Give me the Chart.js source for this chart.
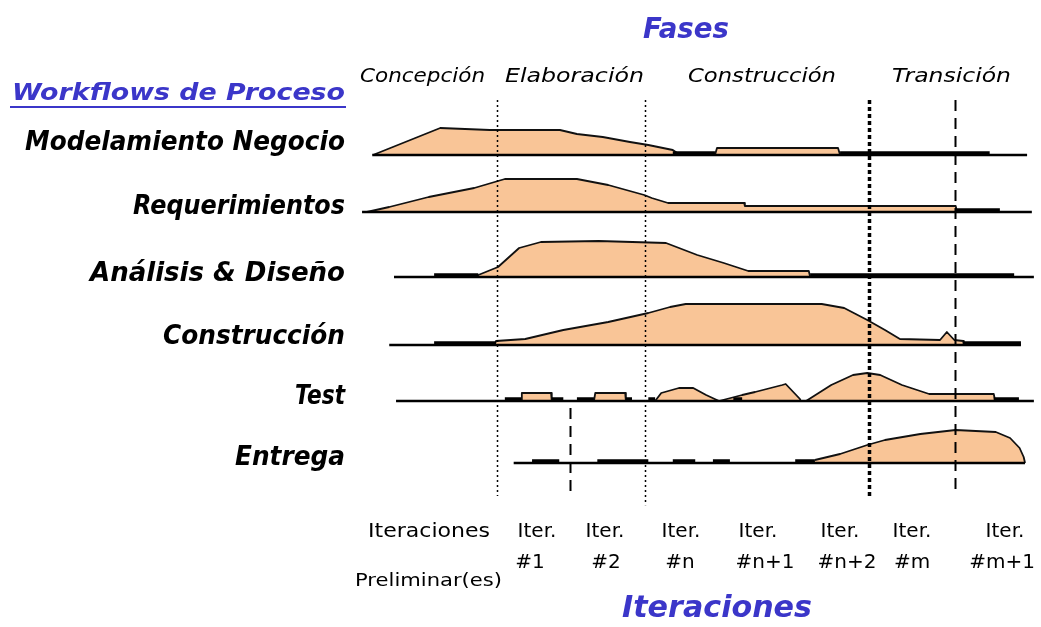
<!DOCTYPE html>
<html><head><meta charset="utf-8">
<script src="https://cdn.jsdelivr.net/npm/chart.js@4/dist/chart.umd.min.js"></script>
<style>html,body{margin:0;padding:0;background:#fff}#wrap{width:1041px;height:627px}canvas{display:block}</style>
</head><body><div id="wrap"><canvas id="c" width="1041" height="627"></canvas></div>
<script>
// ---------- DATA ----------
const title = "Fases";
const axisTitle = "Iteraciones";
const rowHeader = "Workflows de Proceso";
const workflows = ["Modelamiento Negocio","Requerimientos","Análisis & Diseño","Construcción","Test","Entrega"];
const phases = ["Concepción","Elaboración","Construcción","Transición"];
const iterTop = ["Iter.","Iter.","Iter.","Iter.","Iter.","Iter.","Iter."];
const iterBottom = ["#1","#2","#n","#n+1","#n+2","#m","#m+1"];
const iterFirstA = "Iteraciones";
const iterFirstB = "Preliminar(es)";

// baseline level of each workflow band (effort units)
const rowBase = [88.75, 74.5, 58.25, 41.25, 27.25, 11.75];
// extent of each workflow baseline (time units)
const lineStart = [1.8, 0.3, 5.0, 4.3, 5.3, 22.6];
const lineEnd   = [98.1, 98.8, 99.1, 97.2, 99.1, 97.8];

// effort profile of each workflow: time and effort height
const modX = [1.9, 11.8, 19.1, 29.4, 31.9, 35.7, 39.7, 42.4, 46.0, 47.1, 52.2, 52.5, 70.3, 70.6];
const modH = [0, 6.75, 6.25, 6.25, 5.25, 4.5, 3.25, 2.5, 1.25, 0, 0, 1.75, 1.75, 0];
const reqX = [1.0, 4.3, 10.1, 16.8, 21.3, 31.9, 36.5, 41.8, 42.9, 45.3, 56.5, 56.6, 87.6, 87.8];
const reqH = [0, 1.25, 3.75, 6, 8.25, 8.25, 6.75, 4.25, 3.5, 2.25, 2.25, 1.5, 1.5, 0];
const anaX = [17.2, 17.4, 20.3, 23.4, 26.6, 35.1, 45.0, 49.6, 53.5, 57.1, 66.0, 66.2];
const anaH = [0, 0.5, 2.5, 7.25, 8.75, 9, 8.5, 5.5, 3.5, 1.5, 1.5, 0];
const conX = [19.8, 20.0, 24.3, 29.9, 36.5, 42.4, 45.6, 47.9, 67.9, 71.2, 74.6, 77.2, 79.4, 85.3, 86.3, 87.4, 88.7, 88.8];
const conH = [0, 1, 1.5, 3.75, 5.75, 8, 9.5, 10.25, 10.25, 9.25, 6.25, 3.75, 1.5, 1.25, 3.25, 1.25, 1, 0];
const tesX = [23.7, 23.8, 28.1, 28.2, 34.4, 34.6, 39.0, 39.1, 43.4, 44.3, 46.9, 49.0, 50.9, 52.8, 56.2, 58.1, 62.1, 62.6, 64.7, 64.8, 65.6, 69.3, 72.5, 74.6, 76.5, 79.7, 83.7, 93.2, 93.4];
const tesH = [0, 2, 2, 0, 0, 2, 2, 0, 0, 2, 3.25, 3.25, 1.5, 0, 1.5, 2.25, 4, 4.25, 0.5, 0, 0, 4, 6.5, 7, 6.5, 4, 1.75, 1.75, 0];
const entX = [66.9, 70.6, 74.6, 77.2, 82.4, 87.6, 93.5, 95.6, 97.0, 97.6, 97.8];
const entH = [0.75, 2.25, 4.5, 5.75, 7.25, 8.25, 7.75, 6.25, 3.75, 1.5, 0];

// short bursts of low activity (start, end) per workflow
const modBursts = [[46.0, 52.2], [70.6, 92.6]];
const reqBursts = [[87.6, 94.1]];
const anaBursts = [[10.9, 17.4], [66.2, 96.2]];
const conBursts = [[10.9, 20.0], [88.7, 97.2]];
const tesBursts = [[21.3, 23.7], [28.2, 29.9], [31.9, 34.4], [39.1, 40.0], [42.4, 43.4], [54.9, 56.2], [93.2, 96.9]];
const entBursts = [[25.3, 29.3], [34.9, 42.4], [46.0, 49.3], [51.9, 54.4], [64.0, 66.9]];

// phase / iteration boundaries (time units)
const phaseBounds = [20.1, 41.9, 74.9, 87.5];
const iterBound = [30.9];

// ---------- BUILD ----------
const profX = [modX, reqX, anaX, conX, tesX, entX];
const profH = [modH, reqH, anaH, conH, tesH, entH];
const bursts = [modBursts, reqBursts, anaBursts, conBursts, tesBursts, entBursts];
const PEACH = "#f9c597";
const BLUE = "#3b36c9";

const datasets = [];
workflows.forEach((w, i) => {
  datasets.push({
    label: w + " base", order: 0,
    data: [{x: lineStart[i], y: rowBase[i]}, {x: lineEnd[i], y: rowBase[i]}],
    borderColor: "#000", borderWidth: 2.5, pointRadius: 0, fill: false
  });
  const bd = [];
  bursts[i].forEach(([a, b]) => { bd.push({x: a, y: rowBase[i] + 0.45}, {x: b, y: rowBase[i] + 0.45}, {x: b, y: null}); });
  datasets.push({
    label: w + " bursts", order: 0, data: bd, spanGaps: false,
    borderColor: "#000", borderWidth: 4, pointRadius: 0, fill: false, borderCapStyle: "butt"
  });
  datasets.push({
    label: w, order: 2,
    data: profX[i].map((x, j) => ({x, y: rowBase[i] + profH[i][j]})),
    borderColor: "#111", borderWidth: 1.8, pointRadius: 0, tension: 0,
    backgroundColor: PEACH, fill: {value: rowBase[i]}
  });
});

function fitText(ctx, text, x, y, width, align) {
  const m = ctx.measureText(text).width;
  const s = width / m;
  ctx.save();
  let left = align === "right" ? x - width : (align === "center" ? x - width / 2 : x);
  ctx.translate(left, y);
  ctx.scale(s, 1);
  ctx.textAlign = "left";
  ctx.fillText(text, 0, 0);
  ctx.restore();
}

const decor = {
  id: "decor",
  afterDatasetsDraw(chart) {
    const ctx = chart.ctx, xs = chart.scales.x, ys = chart.scales.y;
    ctx.save();
    ctx.strokeStyle = "#000";
    const styles = [
      {w: 1.5, dash: [2, 3]}, {w: 1.5, dash: [2, 3]}, {w: 3.5, dash: [4, 3]}, {w: 2, dash: [11, 7]}
    ];
    phaseBounds.forEach((v, k) => {
      const px = Math.round(xs.getPixelForValue(v)) + 0.5;
      ctx.lineWidth = styles[k].w; ctx.setLineDash(styles[k].dash);
      ctx.beginPath(); ctx.moveTo(px, ys.getPixelForValue(102.5)); ctx.lineTo(px, ys.getPixelForValue(k === 1 ? 1.2 : 3.5)); ctx.stroke();
    });
    iterBound.forEach(v => {
      const px = Math.round(xs.getPixelForValue(v)) + 0.5;
      ctx.lineWidth = 2; ctx.setLineDash([11, 7]);
      ctx.beginPath(); ctx.moveTo(px, ys.getPixelForValue(25.5)); ctx.lineTo(px, ys.getPixelForValue(3.5)); ctx.stroke();
    });
    ctx.restore();
  },
  afterDraw(chart) {
    const ctx = chart.ctx;
    ctx.save();
    ctx.textBaseline = "alphabetic";
    // titles
    ctx.fillStyle = BLUE;
    ctx.font = 'bold italic 29px "DejaVu Sans", sans-serif';
    fitText(ctx, title, 643, 38, 86, "left");
    ctx.font = 'bold italic 30px "DejaVu Sans", sans-serif';
    fitText(ctx, axisTitle, 622, 617, 190, "left");
    ctx.font = 'bold italic 23px "DejaVu Sans", sans-serif';
    fitText(ctx, rowHeader, 12, 100, 333, "left");
    ctx.fillRect(10, 106, 336, 2);
    // workflow labels
    ctx.fillStyle = "#000";
    ctx.font = 'bold italic 26px "DejaVu Sans", sans-serif';
    const lab = [[25, 150], [133, 214], [90, 281], [163, 344], [295, 404], [235, 465]];
    workflows.forEach((w, i) => fitText(ctx, w, 345, lab[i][1], 345 - lab[i][0], "right"));
    // phase labels
    ctx.font = 'italic 20px "DejaVu Sans", sans-serif';
    const ph = [[360, 485], [505, 644], [688, 836], [892, 1011]];
    phases.forEach((p, i) => fitText(ctx, p, ph[i][0], 82, ph[i][1] - ph[i][0], "left"));
    // iteration labels
    ctx.font = '20px "DejaVu Sans", sans-serif';
    fitText(ctx, iterFirstA, 368, 537, 122, "left");
    ctx.font = '17px "DejaVu Sans", sans-serif';
    fitText(ctx, iterFirstB, 355, 586, 147, "left");
    ctx.font = '20px "DejaVu Sans", sans-serif';
    ctx.textAlign = "center";
    const topC = [537, 605, 681, 758, 840, 912, 1005];
    const botC = [530, 606, 680, 765, 847, 912, 1002];
    iterBottom.forEach((t, i) => {
      ctx.fillText(iterTop[i], topC[i], 537);
      ctx.fillText(t, botC[i], 568);
    });
    ctx.restore();
  }
};

new Chart(document.getElementById("c"), {
  type: "line",
  data: {datasets},
  options: {
    responsive: false, animation: false, events: [],
    layout: {padding: {left: 360, right: 1, top: 90, bottom: 117}},
    scales: {
      x: {type: "linear", min: 0, max: 100, display: false},
      y: {type: "linear", min: 0, max: 105, display: false}
    },
    plugins: {legend: {display: false}, tooltip: {enabled: false}, title: {display: false}},
    elements: {line: {borderJoinStyle: "round"}}
  },
  plugins: [decor]
});
</script>
</body></html>
